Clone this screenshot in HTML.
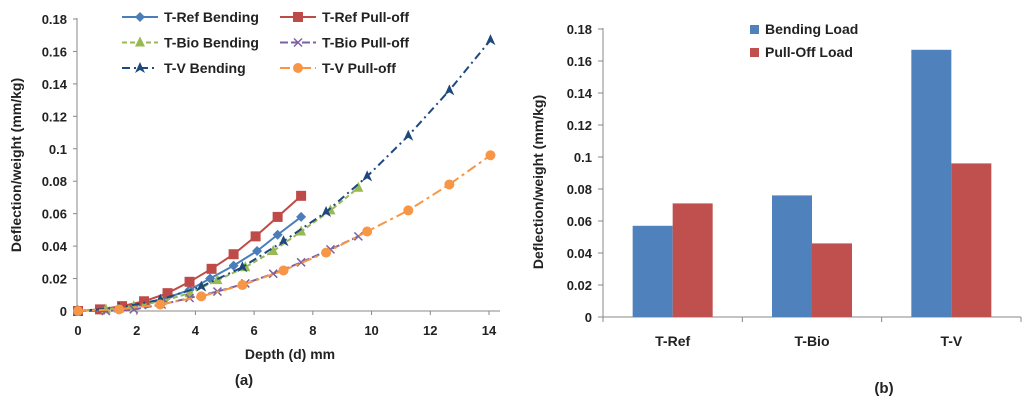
<!DOCTYPE html>
<html><head><meta charset="utf-8"><style>
body{margin:0;background:#fff;width:1024px;height:404px;overflow:hidden}
svg text{font-family:"Liberation Sans",Arial,sans-serif;font-weight:bold;fill:#222}
</style></head><body>
<svg id="s" width="1024" height="404"></svg>
<script>
const xTicks=[0,2,4,6,8,10,12,14];
const yTicks=[0,0.02,0.04,0.06,0.08,0.1,0.12,0.14,0.16,0.18];
const seriesNames=["T-Ref Bending","T-Ref Pull-off","T-Bio Bending","T-Bio Pull-off","T-V Bending","T-V Pull-off"];
const refX=[0,0.8,1.5,2.3,3.0,3.8,4.5,5.3,6.1,6.8,7.6];
const refBend=[0,0.001,0.002,0.004,0.008,0.013,0.02,0.028,0.037,0.047,0.058];
const refPullX=[0,0.75,1.5,2.25,3.05,3.8,4.55,5.3,6.05,6.8,7.6];
const refPull=[0,0.001,0.003,0.006,0.011,0.018,0.026,0.035,0.046,0.058,0.071];
const bioX=[0,0.95,1.9,2.85,3.8,4.75,5.7,6.65,7.6,8.6,9.55];
const bioBend=[0,0.001,0.003,0.006,0.011,0.019,0.027,0.037,0.049,0.062,0.076];
const bioPull=[0,0,0.001,0.004,0.008,0.012,0.017,0.023,0.030,0.038,0.046];
const vX=[0,1.4,2.8,4.2,5.6,7.0,8.45,9.85,11.25,12.65,14.05];
const vBend=[0,0.002,0.007,0.015,0.027,0.043,0.061,0.083,0.108,0.136,0.167];
const vPull=[0,0.001,0.004,0.009,0.016,0.025,0.036,0.049,0.062,0.078,0.096];
const barCats=["T-Ref","T-Bio","T-V"];
const barBend=[0.057,0.076,0.167];
const barPull=[0.071,0.046,0.096];

const S=document.getElementById('s'),NS='http://www.w3.org/2000/svg';
function mk(t,a,p){const e=document.createElementNS(NS,t);for(const k in a)e.setAttribute(k,a[k]);(p||S).appendChild(e);return e;}
function tx(x,y,s,a,p){const e=mk('text',Object.assign({x:x,y:y},a||{}),p);e.textContent=s;return e;}
// left chart
const L={x0:78,x1:489,y0:311,y1:19};
const lx=v=>L.x0+v/14*(L.x1-L.x0), ly=v=>L.y0-v/0.18*(L.y0-L.y1);
let g=mk('g',{});
mk('line',{x1:77,y1:18,x2:77,y2:312,stroke:'#888'},g);
mk('line',{x1:77,y1:311,x2:500,y2:311,stroke:'#888'},g);
yTicks.forEach(v=>{mk('line',{x1:73,x2:77,y1:ly(v),y2:ly(v),stroke:'#888'},g);const t=tx(67,ly(v)+5,String(v),{'text-anchor':'end','font-size':13},g);});
xTicks.forEach(v=>{mk('line',{x1:lx(v),x2:lx(v),y1:311,y2:315,stroke:'#888'},g);const t=tx(lx(v),335,String(v),{'text-anchor':'middle','font-size':13},g);});
let t=tx(0,0,'Deflection/weight (mm/kg)',{'font-size':14,transform:'translate(21,165) rotate(-90)','text-anchor':'middle'},g);

t=tx(290,359,'Depth (d) mm',{'font-size':14,'text-anchor':'middle'},g);

t=tx(244,385,'(a)',{'font-size':15,'text-anchor':'middle','font-family':'Liberation Serif'},g);

function marker(kind,x,y,c,p){
 if(kind=='d')mk('polygon',{points:`${x},${y-5} ${x+5},${y} ${x},${y+5} ${x-5},${y}`,fill:c},p);
 else if(kind=='s')mk('rect',{x:x-5,y:y-5,width:10,height:10,fill:c},p);
 else if(kind=='t')mk('polygon',{points:`${x},${y-6} ${x+5},${y+4} ${x-5},${y+4}`,fill:c},p);
 else if(kind=='x'){mk('path',{d:`M${x-4} ${y-4}L${x+4} ${y+4}M${x+4} ${y-4}L${x-4} ${y+4}`,stroke:c,'stroke-width':1.5},p);}
 else if(kind=='a'){mk('polygon',{points:`${x},${y-6} ${x+5},${y+5} ${x},${y+2} ${x-5},${y+5}`,fill:c},p);}
 else mk('circle',{cx:x,cy:y,r:5,fill:c},p);
}
const defs=[
 [refX,refBend,'#4a7ebb','d','none'],
 [refPullX,refPull,'#be4b48','s','none'],
 [bioX,bioBend,'#98b954','t','5,3'],
 [bioX,bioPull,'#7d60a0','x','8,3'],
 [vX,vBend,'#1f497d','a','8,4,2,4'],
 [vX,vPull,'#f79646','c','10,4,3,4']];
defs.forEach((d,i)=>{
 const sg=mk('g',{},g);
 const pts=d[0].map((x,j)=>lx(x)+','+ly(d[1][j])).join(' ');
 mk('polyline',{points:pts,fill:'none',stroke:d[2],'stroke-width':2,'stroke-dasharray':d[4]},sg);
 d[0].forEach((x,j)=>marker(d[3],lx(x),ly(d[1][j]),d[2],sg));
 const col=i%2,row=Math.floor(i/2);
 const lxs=col?280:122, lyy=17+row*25.5;
 const le=mk('g',{},g);
 mk('line',{x1:lxs,x2:lxs+36,y1:lyy,y2:lyy,stroke:d[2],'stroke-width':2,'stroke-dasharray':d[4]},le);
 marker(d[3],lxs+18,lyy,d[2],le);
 tx(lxs+42,lyy+5,seriesNames[i],{'font-size':14},le);
});
// right chart
const R={x0:603,x1:1021,y0:317,y1:29};
const ry=v=>R.y0-v/0.18*(R.y0-R.y1);
const gw=(R.x1-R.x0)/3;
let h=mk('g',{});
mk('line',{x1:603,y1:28,x2:603,y2:322,stroke:'#888'},h);
mk('line',{x1:598,y1:317,x2:1021,y2:317,stroke:'#888'},h);
yTicks.forEach(v=>{mk('line',{x1:598,x2:603,y1:ry(v),y2:ry(v),stroke:'#888'},h);const t=tx(592,ry(v)+5,String(v),{'text-anchor':'end','font-size':13},h);});
for(let i=0;i<=3;i++)mk('line',{x1:R.x0+i*gw,x2:R.x0+i*gw,y1:317,y2:322,stroke:'#888'},h);
barCats.forEach((c,i)=>{
 const cx=R.x0+gw*(i+0.5),bw=40;
 let b=mk('rect',{x:cx-bw,y:ry(barBend[i]),width:bw,height:R.y0-ry(barBend[i]),fill:'#4f81bd'},h);
 
 b=mk('rect',{x:cx,y:ry(barPull[i]),width:bw,height:R.y0-ry(barPull[i]),fill:'#c0504d'},h);
 
 const t=tx(cx,346,c,{'text-anchor':'middle','font-size':14},h);
});
t=tx(0,0,'Deflection/weight (mm/kg)',{'font-size':14,transform:'translate(543,182) rotate(-90)','text-anchor':'middle'},h);

t=tx(884,393,'(b)',{'font-size':15,'text-anchor':'middle','font-family':'Liberation Serif'},h);

[['Bending Load','#4f81bd',29],['Pull-Off Load','#c0504d',52]].forEach(l=>{
 const le=mk('g',{},h);
 mk('rect',{x:750,y:l[2]-4,width:9,height:9,fill:l[1]},le);
 tx(765,l[2]+5,l[0],{'font-size':14},le);
});
</script>
</body></html>
